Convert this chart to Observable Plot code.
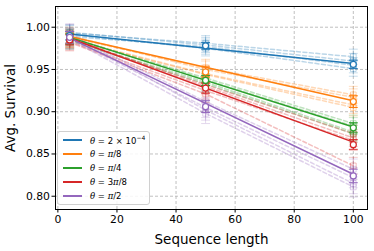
<!DOCTYPE html>
<html><head><meta charset="utf-8">
<script src="https://cdn.jsdelivr.net/npm/d3@7"></script>
<script src="https://cdn.jsdelivr.net/npm/@observablehq/plot@0.6"></script>
<style>
body{margin:0;background:#fff;font-family:"DejaVu Sans",sans-serif;}
#wrap{position:relative;width:374px;height:251px;}
svg [aria-label="x-axis label"] text, svg [aria-label="y-axis label"] text{font-size:13.5px;}
#legend{position:absolute;left:57px;top:131px;width:93px;height:74px;border:1px solid #d0d0d0;border-radius:3px;background:rgba(255,255,255,0.85);box-sizing:border-box;font-size:8.5px;}
.row{position:absolute;left:0;height:14px;display:flex;align-items:center;}
.sw{width:19px;height:2px;margin-left:5px;margin-right:8px;}
i{font-family:"DejaVu Serif",serif;}
</style></head>
<body><div id="wrap"><div id="legend"></div></div>
<script>
const xs = [4, 50, 100];
const seriesNames = ["2e-4", "pi/8", "pi/4", "3pi/8", "pi/2"];
const legendHTML = ["<i>θ</i> = 2 × 10<sup style='font-size:6px'>−4</sup>", "<i>θ</i> = <i>π</i>/8", "<i>θ</i> = <i>π</i>/4", "<i>θ</i> = 3<i>π</i>/8", "<i>θ</i> = <i>π</i>/2"];
const colors = ["#1f77b4", "#ff7f0e", "#2ca02c", "#d62728", "#9467bd"];
// mean markers at xs
const meanVals = [[0.990, 0.978, 0.956], [0.987, 0.947, 0.912], [0.986, 0.937, 0.881], [0.985, 0.928, 0.861], [0.988, 0.906, 0.824]];
const meanErr = [[0.005, 0.004, 0.005], [0.006, 0.006, 0.007], [0.006, 0.006, 0.006], [0.006, 0.006, 0.006], [0.007, 0.007, 0.008]];
// fitted solid line endpoints at x=4 and x=100
const fitX = [4, 100];
const fitVals = [[0.992, 0.957], [0.989, 0.913], [0.988, 0.882], [0.987, 0.864], [0.987, 0.826]];
// individual runs at xs
const runVals = [
  [[0.993, 0.981, 0.965], [0.991, 0.975, 0.951], [0.989, 0.977, 0.955], [0.994, 0.979, 0.960]],
  [[0.988, 0.952, 0.920], [0.985, 0.944, 0.905], [0.990, 0.950, 0.917], [0.986, 0.945, 0.908]],
  [[0.987, 0.940, 0.886], [0.985, 0.935, 0.876], [0.988, 0.938, 0.883], [0.984, 0.933, 0.874]],
  [[0.986, 0.932, 0.874], [0.983, 0.925, 0.866], [0.987, 0.930, 0.869], [0.982, 0.921, 0.836]],
  [[0.991, 0.912, 0.832], [0.987, 0.905, 0.822], [0.992, 0.902, 0.815], [0.986, 0.898, 0.811]]
];
const runErr = [0.009, 0.010, 0.010, 0.010, 0.012];
const xTicks = [0, 20, 40, 60, 80, 100];
const yTicks = [0.80, 0.85, 0.90, 0.95, 1.00];

const fitRows = [], meanRows = [], runRows = [];
seriesNames.forEach((s, i) => {
  fitX.forEach((x, j) => fitRows.push({s, x, y: fitVals[i][j]}));
  xs.forEach((x, j) => meanRows.push({s, x, y: meanVals[i][j], e: meanErr[i][j]}));
  runVals[i].forEach((r, k) => xs.forEach((x, j) => runRows.push({s, run: s + k, x, y: r[j], e: runErr[i]})));
});
const capSymbol = {draw(ctx, size) { const w = Math.sqrt(size); ctx.moveTo(-w, 0); ctx.lineTo(w, 0); }};
const color = {domain: seriesNames, range: colors};
const chart = Plot.plot({
  width: 374, height: 251,
  marginLeft: 55, marginRight: 7, marginTop: 6, marginBottom: 42,
  style: {fontFamily: "DejaVu Sans, sans-serif", fontSize: "10.8px", color: "#000", background: "transparent"},
  x: {type: "linear", domain: [-0.8, 104.8]},
  y: {type: "linear", domain: [0.7843, 1.0245]},
  color,
  marks: [
    Plot.gridX(xTicks, {stroke: "#b0b0b0", strokeOpacity: 1, strokeDasharray: "3,2", strokeWidth: 0.8}),
    Plot.gridY(yTicks, {stroke: "#b0b0b0", strokeOpacity: 1, strokeDasharray: "3,2", strokeWidth: 0.8}),
    Plot.line(runRows, {x: "x", y: "y", z: "run", stroke: "s", strokeOpacity: 0.3, strokeWidth: 1.5, strokeDasharray: "4,2.5"}),
    Plot.ruleX(runRows, {x: "x", y1: d => d.y - d.e, y2: d => d.y + d.e, stroke: "s", strokeOpacity: 0.25, strokeWidth: 1}),
    Plot.dot(runRows, {x: "x", y: d => d.y - d.e, symbol: capSymbol, r: 2.5, stroke: "s", strokeOpacity: 0.25, strokeWidth: 1}),
    Plot.dot(runRows, {x: "x", y: d => d.y + d.e, symbol: capSymbol, r: 2.5, stroke: "s", strokeOpacity: 0.25, strokeWidth: 1}),
    Plot.dot(runRows, {x: "x", y: "y", symbol: "square", r: 3.2, stroke: "s", strokeOpacity: 0.3, fill: "none", strokeWidth: 1}),
    Plot.line(fitRows, {x: "x", y: "y", z: "s", stroke: "s", strokeWidth: 1.5}),
    Plot.ruleX(meanRows, {x: "x", y1: d => d.y - d.e, y2: d => d.y + d.e, stroke: "s", strokeWidth: 1.2}),
    Plot.dot(meanRows, {x: "x", y: d => d.y - d.e, symbol: capSymbol, r: 2.5, stroke: "s", strokeWidth: 1}),
    Plot.dot(meanRows, {x: "x", y: d => d.y + d.e, symbol: capSymbol, r: 2.5, stroke: "s", strokeWidth: 1}),
    Plot.dot(meanRows, {x: "x", y: "y", r: 3, stroke: "s", fill: "white", strokeWidth: 1.2}),
    Plot.frame({stroke: "#000", strokeWidth: 1}),
    Plot.axisX({ticks: xTicks, tickSize: 3.5, tickPadding: 2, label: "Sequence length", labelAnchor: "center", labelArrow: "none", labelOffset: 34}),
    Plot.axisY({ticks: yTicks, tickSize: 3.5, tickPadding: 2, tickFormat: d3.format(".2f"), label: "Avg. Survival", labelAnchor: "center", labelArrow: "none", labelOffset: 50})
  ]
});
document.getElementById("wrap").prepend(chart);
const leg = document.getElementById("legend");
const rowCenters = [9, 23, 37, 51, 65];
legendHTML.forEach((h, i) => {
  const r = document.createElement("div");
  r.className = "row"; r.style.top = (rowCenters[i] - 7 - 1) + "px";
  r.innerHTML = `<div class="sw" style="background:${colors[i]}"></div><span>${h}</span>`;
  leg.appendChild(r);
});
</script></body></html>
